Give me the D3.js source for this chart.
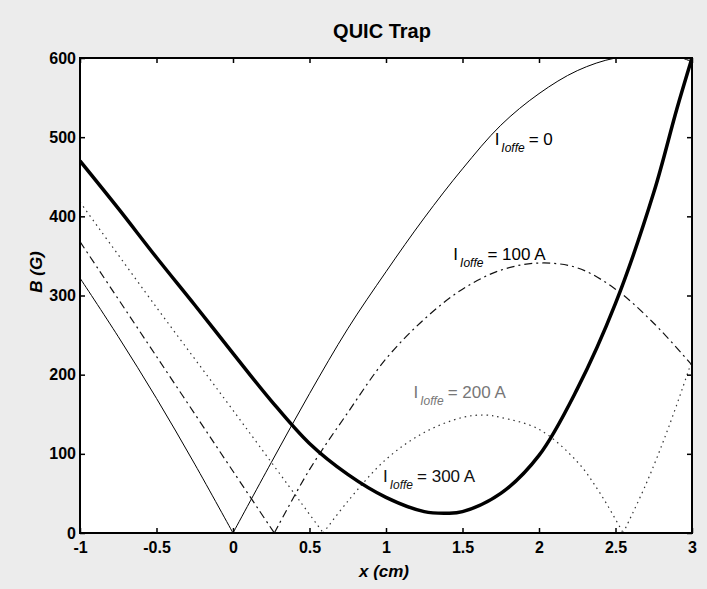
<!DOCTYPE html>
<meta charset="utf-8">
<title>QUIC Trap</title>
<script src="https://d3js.org/d3.v7.min.js"></script>
<style>
  body { margin: 0; background: #ececec; }
  text { font-family: Arial, "Liberation Sans", sans-serif; }
  .tick text { font-size: 16px; font-weight: bold; fill: #000; }
  .tick line { stroke: #000; stroke-width: 1.5; }
</style>
<body>
<div id="chart"></div>
<script>
// Ioffe = 0 (thin solid), two branches meeting at the zero
var i0LeftX  = [-1, -0.75, -0.5, -0.25, 0];
var i0LeftB  = [322, 248, 170, 87, 0];
var i0RightX = [0, 0.25, 0.5, 0.75, 1, 1.25, 1.5, 1.75, 2, 2.25, 2.5, 2.75, 2.9, 3];
var i0RightB = [0, 89, 176, 258, 330, 398, 460, 515, 555, 584, 600, 603, 602, 595];

// Ioffe = 100 A (dash-dot)
var i100LeftX  = [-1, -0.5, 0, 0.27];
var i100LeftB  = [368, 223, 78, 0];
var i100RightX = [0.27, 0.5, 0.75, 1, 1.25, 1.5, 1.75, 2, 2.25, 2.5, 2.75, 3];
var i100RightB = [0, 80, 152, 220, 270, 308, 332, 341, 335, 308, 265, 212];

// Ioffe = 200 A (dotted), three branches
var i200LeftX  = [-1, -0.5, 0, 0.59];
var i200LeftB  = [418, 285, 155, 0];
var i200MidX   = [0.59, 0.75, 1, 1.25, 1.5, 1.65, 1.75, 2, 2.25, 2.4, 2.55];
var i200MidB   = [0, 40, 93, 127, 146, 149, 146, 131, 90, 50, 0];
var i200RightX = [2.55, 2.7, 2.85, 3];
var i200RightB = [0, 62, 135, 218];

// Ioffe = 300 A (thick solid)
var i300X = [-1, -0.75, -0.5, -0.25, 0, 0.25, 0.5, 0.75, 1, 1.25, 1.4, 1.5, 1.75, 2, 2.25, 2.5, 2.75, 2.9, 3];
var i300B = [470, 410, 348, 288, 227, 167, 113, 74, 45, 27, 25, 27, 50, 98, 182, 290, 430, 535, 600];

var xTicks = [-1, -0.5, 0, 0.5, 1, 1.5, 2, 2.5, 3];
var xTickLabels = ["-1", "-0.5", "0", "0.5", "1", "1.5", "2", "2.5", "3"];
var yTicks = [0, 100, 200, 300, 400, 500, 600];
var yTickLabels = ["0", "100", "200", "300", "400", "500", "600"];

var W = 707, H = 589;
var margin = {top: 58, right: 15, bottom: 56, left: 80},
    width = W - margin.left - margin.right,
    height = H - margin.top - margin.bottom;

var svg = d3.select("#chart").append("svg")
    .attr("width", W)
    .attr("height", H);

var g = svg.append("g")
    .attr("transform", "translate(" + margin.left + "," + margin.top + ")");

var x = d3.scaleLinear().domain([-1, 3]).range([0, width]);
var y = d3.scaleLinear().domain([0, 600]).range([height, 0]);

// white plot area
g.append("rect")
    .attr("width", width).attr("height", height)
    .attr("fill", "#fff");

g.append("clipPath").attr("id", "clip")
  .append("rect").attr("width", width).attr("height", height);

function zip(xs, bs) {
    return xs.map(function(v, i) { return [v, bs[i]]; });
}

var line = d3.line()
    .x(function(d) { return x(d[0]); })
    .y(function(d) { return y(d[1]); })
    .curve(d3.curveCatmullRom.alpha(0.5));

var curves = [
    {pts: zip(i0LeftX, i0LeftB), w: 1, dash: null, c: "#000"},
    {pts: zip(i0RightX, i0RightB), w: 1, dash: null, c: "#000"},
    {pts: zip(i100LeftX, i100LeftB), w: 1.2, dash: "8,4,2,4", c: "#111"},
    {pts: zip(i100RightX, i100RightB), w: 1.2, dash: "8,4,2,4", c: "#111"},
    {pts: zip(i200LeftX, i200LeftB), w: 1.2, dash: "1.5,4", c: "#333"},
    {pts: zip(i200MidX, i200MidB), w: 1.2, dash: "1.5,4", c: "#333"},
    {pts: zip(i200RightX, i200RightB), w: 1.2, dash: "1.5,4", c: "#333"},
    {pts: zip(i300X, i300B), w: 3.5, dash: null, c: "#000"}
];

g.append("g").attr("clip-path", "url(#clip)")
  .selectAll("path")
  .data(curves).enter()
  .append("path")
    .attr("d", function(d) { return line(d.pts); })
    .attr("fill", "none")
    .attr("stroke", function(d) { return d.c; })
    .attr("stroke-width", function(d) { return d.w; })
    .attr("stroke-dasharray", function(d) { return d.dash; });

// axes, ticks pointing inward on all four sides
g.append("g")
    .attr("transform", "translate(0," + height + ")")
    .call(d3.axisBottom(x).tickValues(xTicks).tickSize(-5).tickPadding(9)
        .tickFormat(function(d, i) { return xTickLabels[i]; }))
    .call(function(a) { a.select(".domain").remove(); });

g.append("g")
    .call(d3.axisTop(x).tickValues(xTicks).tickSize(-5).tickFormat(""))
    .call(function(a) { a.select(".domain").remove(); });

g.append("g")
    .call(d3.axisLeft(y).tickValues(yTicks).tickSize(-5).tickPadding(4)
        .tickFormat(function(d, i) { return yTickLabels[i]; }))
    .call(function(a) { a.select(".domain").remove(); });

g.append("g")
    .attr("transform", "translate(" + width + ",0)")
    .call(d3.axisRight(y).tickValues(yTicks).tickSize(-5).tickFormat(""))
    .call(function(a) { a.select(".domain").remove(); });

// frame
g.append("rect")
    .attr("width", width).attr("height", height)
    .attr("fill", "none")
    .attr("stroke", "#000")
    .attr("stroke-width", 2);

// curve labels: I with italic subscript "Ioffe"
var labelTexts = ["= 0", "= 100 A", "= 200 A", "= 300 A"];
var labelPos = [[1.71, 490], [1.44, 345], [1.18, 171], [0.98, 65]];
var labelColor = ["#000", "#000", "#777", "#111"];

labelTexts.forEach(function(t, i) {
    var txt = g.append("text")
        .attr("x", x(labelPos[i][0]))
        .attr("y", y(labelPos[i][1]))
        .attr("fill", labelColor[i])
        .style("font-size", "17px");
    txt.append("tspan").text("I");
    txt.append("tspan")
        .attr("dx", 2)
        .attr("dy", 7)
        .style("font-size", "12px")
        .style("font-style", "italic")
        .text("Ioffe");
    txt.append("tspan")
        .attr("dx", 4)
        .attr("dy", -7)
        .text(t);
});

// title and axis titles
svg.append("text")
    .attr("x", 382).attr("y", 38)
    .attr("text-anchor", "middle")
    .style("font-size", "20px")
    .style("font-weight", "bold")
    .text("QUIC Trap");

svg.append("text")
    .attr("x", 384).attr("y", 577)
    .attr("text-anchor", "middle")
    .style("font-size", "17px")
    .style("font-weight", "bold")
    .style("font-style", "italic")
    .text("x (cm)");

svg.append("text")
    .attr("transform", "translate(42,272) rotate(-90)")
    .attr("text-anchor", "middle")
    .style("font-size", "17px")
    .style("font-weight", "bold")
    .style("font-style", "italic")
    .text("B (G)");
</script>
</body>
